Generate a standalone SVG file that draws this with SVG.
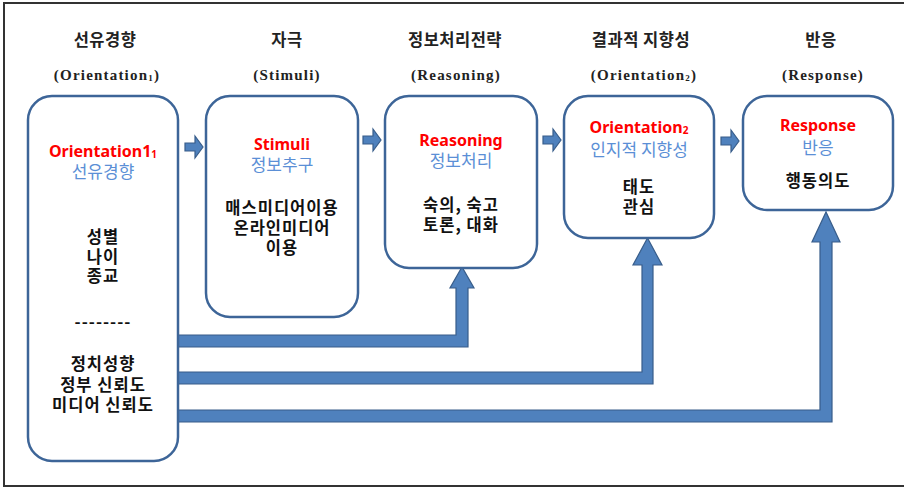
<svg xmlns="http://www.w3.org/2000/svg" width="904" height="487" viewBox="0 0 904 487">
<style>
.frame{fill:none;stroke:#333;stroke-width:2}
.box{fill:#fff;stroke:#3d6598;stroke-width:2.5}
.hk{font-family:"Noto Sans CJK KR",sans-serif;font-size:16.5px;font-weight:bold;letter-spacing:0.5px;fill:#222;text-anchor:middle}
.he{font-family:"Liberation Serif","Noto Sans CJK KR",serif;font-size:15px;font-weight:bold;letter-spacing:1.2px;fill:#222;text-anchor:middle}
.red{font-family:"Noto Sans","Noto Sans CJK KR",sans-serif;font-size:16px;font-weight:bold;fill:#ff0000;text-anchor:middle}
.blue{font-family:"Noto Sans CJK KR",sans-serif;font-size:17px;fill:#5b8fd6;text-anchor:middle}
.body{font-family:"Noto Sans CJK KR",sans-serif;font-size:16.5px;font-weight:bold;letter-spacing:1px;fill:#111;text-anchor:middle}
.arr{fill:#4f81bd;stroke:#385d8a;stroke-width:1.2}
</style>
<path class="frame" d="M904,3 H4 V486 H904"/>
<g id="headers">
<text class="hk" x="105" y="46">선유경향</text>
<text class="he" x="107" y="80">(Orientation<tspan font-size="9" dy="1">1</tspan><tspan dy="-1">)</tspan></text>
<text class="hk" x="287" y="46">자극</text>
<text class="he" x="287" y="80">(Stimuli)</text>
<text class="hk" x="455" y="46">정보처리전략</text>
<text class="he" x="456" y="80">(Reasoning)</text>
<text class="hk" x="641" y="46">결과적 지향성</text>
<text class="he" x="644" y="80">(Orientation<tspan font-size="9" dy="1">2</tspan><tspan dy="-1">)</tspan></text>
<text class="hk" x="821" y="46">반응</text>
<text class="he" x="823" y="80">(Response)</text>
</g>
<g id="connectors">
<path class="arr" d="M185,143 h10 v-7 l8,11 l-8,11 v-7 h-10 Z"/>
<path class="arr" d="M363,136 h10 v-7 l8,11 l-8,11 v-7 h-10 Z"/>
<path class="arr" d="M543,136 h10 v-7 l8,11 l-8,11 v-7 h-10 Z"/>
<path class="arr" d="M721,137 h10 v-7 l8,11 l-8,11 v-7 h-10 Z"/>
<path class="arr" d="M178,335 H456 V288 H450 L462,267 L474,288 H468 V347 H178 Z"/>
<path class="arr" d="M178,372 H642 V265 H633 L647.5,238 L662,265 H653 V384 H178 Z"/>
<path class="arr" d="M178,410 H820 V242 H812 L826,212 L840,242 H832 V422 H178 Z"/>
</g>
<g id="orientation1">
<rect class="box" x="28" y="96" width="150" height="365" rx="24"/>
<text class="red" x="103" y="157">Orientation1<tspan font-size="10" dy="1">1</tspan></text>
<text class="blue" x="103" y="178">선유경향</text>
<text class="body" x="103" y="243">성별</text>
<text class="body" x="103" y="263">나이</text>
<text class="body" x="103" y="282">종교</text>
<text class="body" x="103" y="328" letter-spacing="1.5">--------</text>
<text class="body" x="103" y="370">정치성향</text>
<text class="body" x="103" y="391">정부 신뢰도</text>
<text class="body" x="103" y="411">미디어 신뢰도</text>
</g>
<g id="stimuli">
<rect class="box" x="206" y="96" width="152" height="221" rx="24"/>
<text class="red" x="282" y="150">Stimuli</text>
<text class="blue" x="282" y="171">정보추구</text>
<text class="body" x="282" y="214" letter-spacing="0.3">매스미디어이용</text>
<text class="body" x="282" y="234">온라인미디어</text>
<text class="body" x="282" y="254">이용</text>
</g>
<g id="reasoning">
<rect class="box" x="385" y="96" width="152" height="172" rx="24"/>
<text class="red" x="461" y="146">Reasoning</text>
<text class="blue" x="461" y="167">정보처리</text>
<text class="body" x="461" y="211">숙의, 숙고</text>
<text class="body" x="461" y="231">토론, 대화</text>
</g>
<g id="orientation2">
<rect class="box" x="564" y="96" width="150" height="142" rx="24"/>
<text class="red" x="639" y="133">Orientation<tspan font-size="10" dy="1">2</tspan></text>
<text class="blue" x="639" y="156">인지적 지향성</text>
<text class="body" x="639" y="193">태도</text>
<text class="body" x="639" y="213">관심</text>
</g>
<g id="response">
<rect class="box" x="743" y="96" width="150" height="114" rx="24"/>
<text class="red" x="818" y="131">Response</text>
<text class="blue" x="818" y="154">반응</text>
<text class="body" x="818" y="187">행동의도</text>
</g>
</svg>
